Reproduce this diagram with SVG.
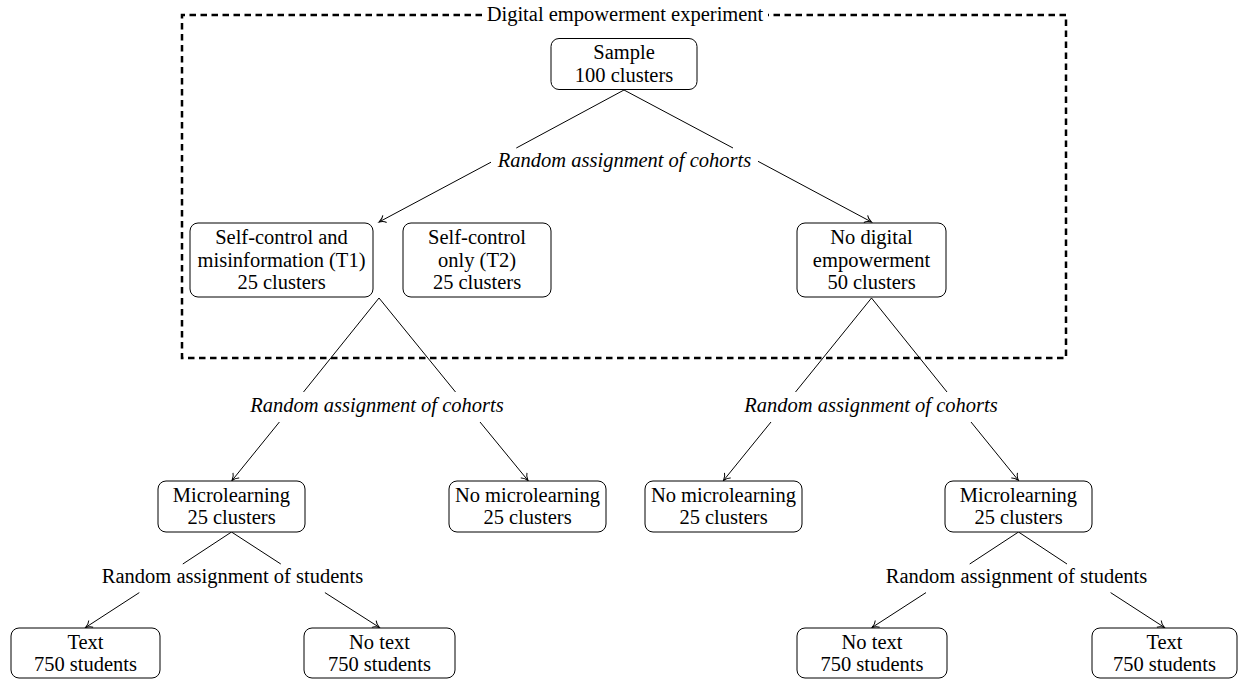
<svg xmlns="http://www.w3.org/2000/svg" width="1238" height="679" viewBox="0 0 1238 679" font-family="'Liberation Serif', 'DejaVu Serif', serif">
<defs>
<marker id="arr" markerUnits="userSpaceOnUse" markerWidth="12" markerHeight="12" viewBox="-8 -6 10 12" refX="0" refY="0" orient="auto" overflow="visible">
<path d="M -6.5 -4 C -5 -1.8 -1.8 -0.5 0 0 C -1.8 0.5 -5 1.8 -6.5 4" fill="none" stroke="#000" stroke-width="1"/>
</marker>
</defs>
<style>
text{font-family:'Liberation Serif','DejaVu Serif',serif;font-size:20.5px;fill:#000;text-anchor:middle}
.it{font-style:italic}
.box{fill:#fff;stroke:#000;stroke-width:1}
.ln{fill:none;stroke:#000;stroke-width:1}
.ar{fill:none;stroke:#000;stroke-width:1;marker-end:url(#arr)}
.frame{fill:none;stroke:#000;stroke-width:2.5;stroke-dasharray:6.5 4.5}
</style>
<g id="frame">
<path class="frame" d="M 482 15 H 182 V 358 H 1066 V 15 H 768"/>
<text x="625" y="21">Digital empowerment experiment</text>
</g>
<g id="connectors">
<path class="ln" d="M 624 90 L 516.3 148"/>
<path class="ar" d="M 491 162.2 L 379 222"/>
<path class="ln" d="M 624 90 L 733 148"/>
<path class="ar" d="M 758 161.3 L 871.5 222"/>
<path class="ln" d="M 379 298 L 303.5 392"/>
<path class="ar" d="M 279.4 422 L 232 480.5"/>
<path class="ln" d="M 379 298 L 455.5 392"/>
<path class="ar" d="M 480 422 L 528 480.5"/>
<path class="ln" d="M 871.5 298 L 795.5 392"/>
<path class="ar" d="M 771 422 L 723.5 480.5"/>
<path class="ln" d="M 871.5 298 L 947 392"/>
<path class="ar" d="M 971 422 L 1018.5 480.5"/>
<path class="ln" d="M 231.5 532 L 182.8 564"/>
<path class="ar" d="M 139.3 592.6 L 85.5 627.5"/>
<path class="ln" d="M 231.5 532 L 280.8 564"/>
<path class="ar" d="M 324.9 592.6 L 379.5 627.5"/>
<path class="ln" d="M 1018.5 532 L 969.7 564"/>
<path class="ar" d="M 926 592.6 L 872 627.5"/>
<path class="ln" d="M 1018.5 532 L 1067 564"/>
<path class="ar" d="M 1110.6 592.6 L 1164.5 627.5"/>
</g>
<g id="label-top"><text class="it" x="624.5" y="167">Random assignment of cohorts</text></g>
<g id="label-mid-left"><text class="it" x="377" y="412">Random assignment of cohorts</text></g>
<g id="label-mid-right"><text class="it" x="871" y="412">Random assignment of cohorts</text></g>
<g id="label-low-left"><text x="232.5" y="583">Random assignment of students</text></g>
<g id="label-low-right"><text x="1016.5" y="583">Random assignment of students</text></g>
<g id="sample"><rect class="box" x="551" y="38.5" width="146" height="51" rx="8"/><text x="624" y="59">Sample</text><text x="624" y="81.5">100 clusters</text></g>
<g id="t1"><rect class="box" x="190" y="223" width="183" height="74" rx="8"/><text x="281.5" y="244">Self-control and</text><text x="281.5" y="266.5">misinformation (T1)</text><text x="281.5" y="289">25 clusters</text></g>
<g id="t2"><rect class="box" x="403" y="223" width="148" height="74" rx="8"/><text x="477" y="244">Self-control</text><text x="477" y="266.5">only (T2)</text><text x="477" y="289">25 clusters</text></g>
<g id="nodigital"><rect class="box" x="797" y="223" width="149" height="74" rx="8"/><text x="871.5" y="244">No digital</text><text x="871.5" y="266.5">empowerment</text><text x="871.5" y="289">50 clusters</text></g>
<g id="micro-left"><rect class="box" x="158" y="481" width="147" height="51" rx="8"/><text x="231.5" y="501.5">Microlearning</text><text x="231.5" y="524">25 clusters</text></g>
<g id="nomicro-left"><rect class="box" x="449" y="481" width="157" height="51" rx="8"/><text x="527.5" y="501.5">No microlearning</text><text x="527.5" y="524">25 clusters</text></g>
<g id="nomicro-right"><rect class="box" x="645" y="481" width="157" height="51" rx="8"/><text x="723.5" y="501.5">No microlearning</text><text x="723.5" y="524">25 clusters</text></g>
<g id="micro-right"><rect class="box" x="945" y="481" width="147" height="51" rx="8"/><text x="1018.5" y="501.5">Microlearning</text><text x="1018.5" y="524">25 clusters</text></g>
<g id="text-left"><rect class="box" x="11" y="628" width="149" height="50" rx="8"/><text x="85.5" y="648.5">Text</text><text x="85.5" y="671">750 students</text></g>
<g id="notext-left"><rect class="box" x="304" y="628" width="151" height="50" rx="8"/><text x="379.5" y="648.5">No text</text><text x="379.5" y="671">750 students</text></g>
<g id="notext-right"><rect class="box" x="797" y="628" width="150" height="50" rx="8"/><text x="872" y="648.5">No text</text><text x="872" y="671">750 students</text></g>
<g id="text-right"><rect class="box" x="1092" y="628" width="145" height="50" rx="8"/><text x="1164.5" y="648.5">Text</text><text x="1164.5" y="671">750 students</text></g>
</svg>
